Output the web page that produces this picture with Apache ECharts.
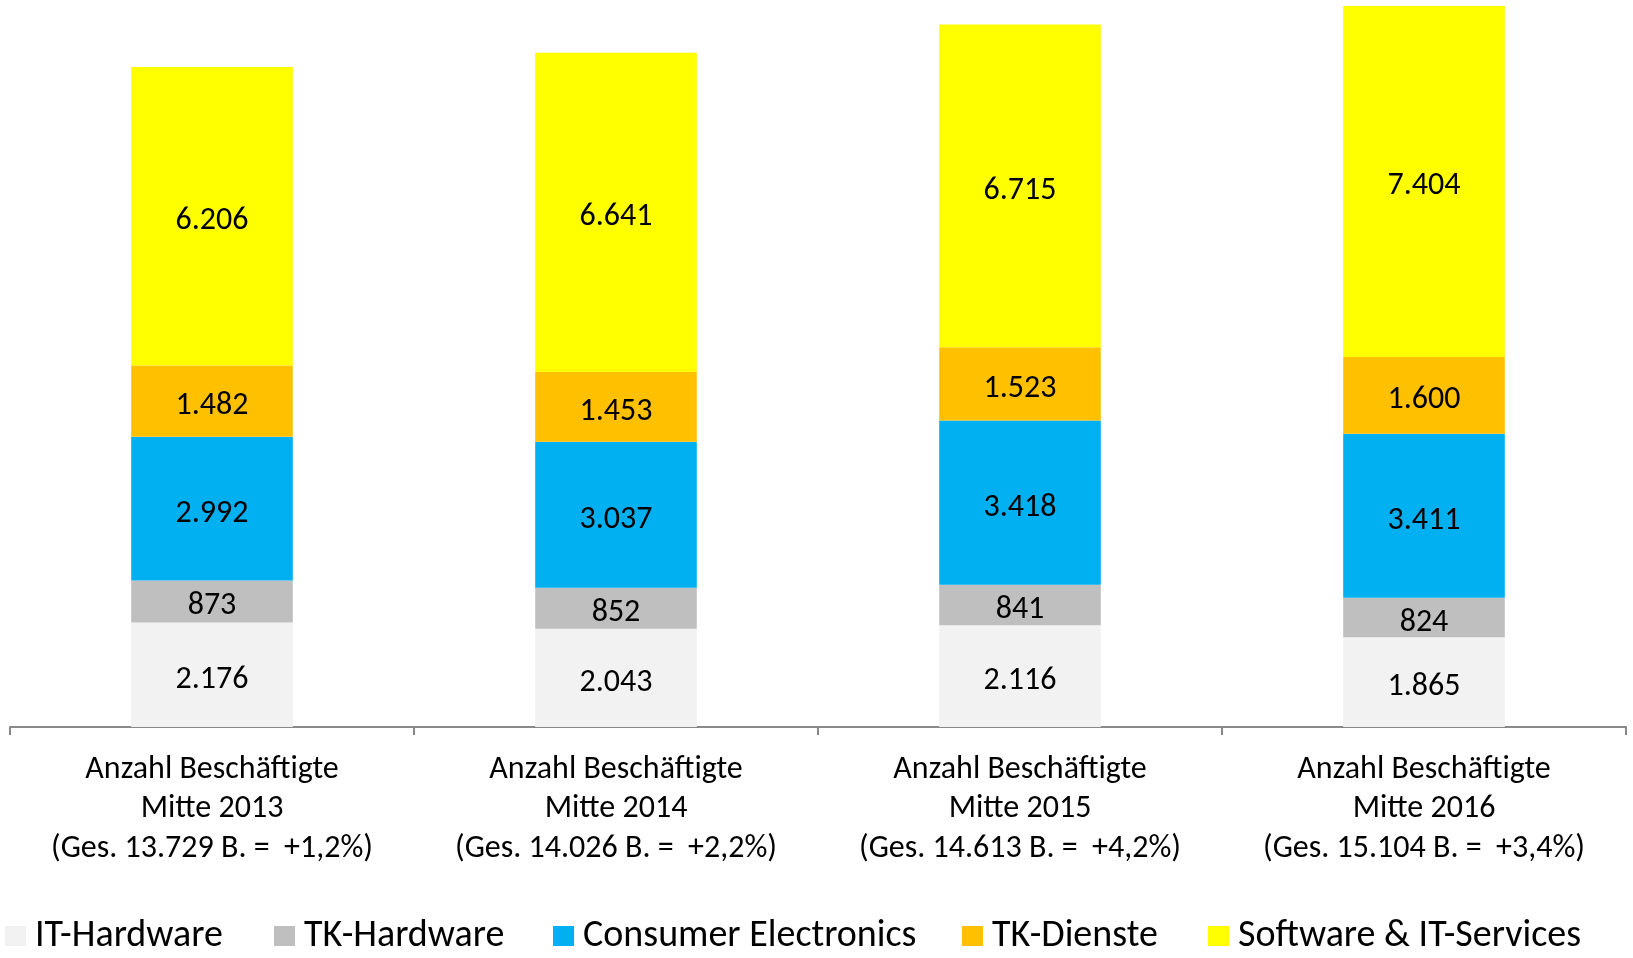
<!DOCTYPE html>
<html>
<head>
<meta charset="utf-8">
<script src="https://cdn.jsdelivr.net/npm/echarts@6/dist/echarts.min.js"></script>
<style>
html,body{margin:0;padding:0;background:#fff;}
#chart{width:1633px;height:958px;}
</style>
</head>
<body>
<div id="chart"></div>
<script>
const years = ['2013', '2014', '2015', '2016'];
const totals = ['13.729', '14.026', '14.613', '15.104'];
const growth = ['+1,2%', '+2,2%', '+4,2%', '+3,4%'];
const seriesNames = ['IT-Hardware', 'TK-Hardware', 'Consumer Electronics', 'TK-Dienste', 'Software & IT-Services'];
const itHardware = [2176, 2043, 2116, 1865];
const tkHardware = [873, 852, 841, 824];
const consumerElectronics = [2992, 3037, 3418, 3411];
const tkDienste = [1482, 1453, 1523, 1600];
const software = [6206, 6641, 6715, 7404];

const colors = ['#F2F2F2', '#BFBFBF', '#00B0F0', '#FFC000', '#FFFF00'];
const values = [itHardware, tkHardware, consumerElectronics, tkDienste, software];
const categories = years.map((y, i) => 'Anzahl Beschäftigte\nMitte ' + y + '\n(Ges. ' + totals[i] + ' B. =  ' + growth[i] + ')');

const FONT = 'Calibri, Carlito, Lato, sans-serif';
function fmt(v) {
  return String(v).replace(/\B(?=(\d{3})+(?!\d))/g, '.');
}

const legendLefts = [5, 274, 553, 962, 1208];

const chart = echarts.init(document.getElementById('chart'), null, {renderer: 'canvas'});
chart.setOption({
  animation: false,
  backgroundColor: '#fff',
  grid: {left: 10, right: 7, top: 6, bottom: 231, containLabel: false},
  xAxis: {
    type: 'category',
    data: categories,
    axisLine: {show: true, lineStyle: {color: '#898989', width: 2}},
    axisTick: {show: true, length: 8, lineStyle: {color: '#898989', width: 2}},
    axisLabel: {
      interval: 0, margin: 23,
      fontFamily: FONT, fontSize: 32, lineHeight: 39.5, color: '#000', align: 'center'
    }
  },
  yAxis: {type: 'value', min: 0, max: 15000, show: false, splitLine: {show: false}},
  legend: seriesNames.map((n, i) => ({
    data: [n], left: legendLefts[i], top: 917,
    itemWidth: 21, itemHeight: 20, itemGap: 10, icon: 'rect',
    textStyle: {fontFamily: FONT, fontSize: 38, color: '#000', padding: [0, 0, 0, 4]},
    selectedMode: false, padding: 0
  })),
  series: seriesNames.map((n, i) => ({
    name: n, type: 'bar', stack: 'total', barWidth: '40%',
    clip: true,
    itemStyle: {color: colors[i]},
    label: {
      show: true, position: 'inside', color: '#000',
      fontFamily: FONT, fontSize: 32, offset: [0, 5],
      formatter: p => fmt(p.value)
    },
    data: values[i]
  }))
});
</script>
</body>
</html>
